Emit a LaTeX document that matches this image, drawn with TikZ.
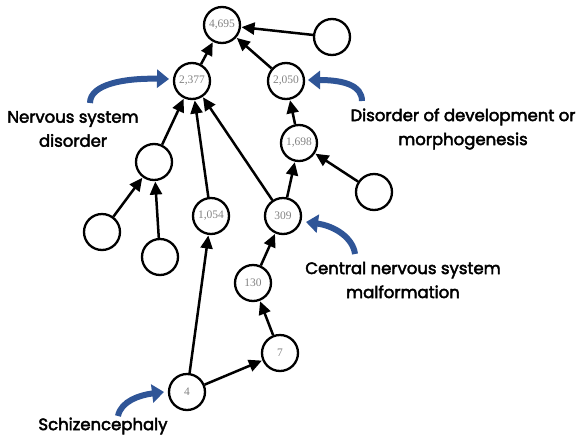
\documentclass[tikz,border=0pt]{standalone}
\usepackage{fontspec}
\setmainfont{Poppins}
\newfontfamily\lblfont{Poppins}
\newfontfamily\numfont{Liberation Serif}
\newcommand{\heavytext}[1]{\special{pdf:literal direct 2 Tr 0.45 w}#1\special{pdf:literal direct 0 Tr}}
\usetikzlibrary{arrows.meta}
\definecolor{arrowblue}{RGB}{47,85,151}
\definecolor{numgray}{RGB}{130,130,130}
\begin{document}
\begin{tikzpicture}[x=1pt,y=-1pt,
  cnode/.style={circle,draw=black,line width=2.3pt,minimum size=36pt,inner sep=0pt,font=\numfont\fontsize{11.5}{13}\selectfont,text=numgray},
  edge/.style={line width=2.5pt,-{Triangle[length=13pt,width=12pt]},shorten >=0.5pt},
  callout/.style={line width=6pt,arrowblue,-{Triangle[length=12pt,width=18pt]}},
  lbl/.style={font=\lblfont\fontsize{16.5}{24}\selectfont,align=center,text=black}]
\useasboundingbox (0,0) rectangle (584,437);
\node[cnode] (a) at (222,25) {4,695};
\node[cnode] (b) at (332,37) {};
\node[cnode] (c) at (192,81) {2,377};
\node[cnode] (d) at (286,81) {2,050};
\node[cnode] (e) at (299,143) {1,698};
\node[cnode] (f) at (154,162) {};
\node[cnode] (g) at (374,192) {};
\node[cnode] (h) at (211,216) {1,054};
\node[cnode] (i) at (283,216) {309};
\node[cnode] (j) at (102,232) {};
\node[cnode] (k) at (160,257) {};
\node[cnode] (l) at (253,283) {130};
\node[cnode] (m) at (280,353) {7};
\node[cnode] (n) at (187,392) {4};

\draw[edge] (c) -- (a);
\draw[edge] (b) -- (a);
\draw[edge] (d) -- (a);
\draw[edge] (e) -- (d);
\draw[edge] (f) -- (c);
\draw[edge] (h) -- (c);
\draw[edge] (i) -- (c);
\draw[edge] (i) -- (e);
\draw[edge] (g) -- (e);
\draw[edge] (j) -- (f);
\draw[edge] (k) -- (f);
\draw[edge] (n) -- (h);
\draw[edge] (n) -- (m);
\draw[edge] (m) -- (l);
\draw[edge] (l) -- (i);

\node[lbl] (t1) at (73,129) {\heavytext{Nervous system}\\\heavytext{disorder}};
\node[lbl] (t2) at (463,129) {\heavytext{Disorder of development or}\\\heavytext{morphogenesis}};
\node[lbl] (t3) at (403,280) {\heavytext{Central nervous system}\\\heavytext{malformation}};
\node[lbl] (t4) at (103,426) {\heavytext{Schizencephaly}};

\coordinate (s1) at (90,103);
\coordinate (e1) at (169,79);
\coordinate (s2) at (362,101);
\coordinate (e2) at (308,80);
\coordinate (s3) at (355,254);
\coordinate (e3) at (306,222);
\coordinate (s4) at (118,416);
\coordinate (e4) at (164,392);
\draw[callout] (s1) .. controls (90,84) and (125,78) .. (e1);
\draw[callout] (s2) .. controls (362,86) and (345,80) .. (e2);
\draw[callout] (s3) .. controls (353,238) and (335,226) .. (e3);
\draw[callout] (s4) .. controls (121,401) and (140,395) .. (e4);
\end{tikzpicture}
\end{document}
